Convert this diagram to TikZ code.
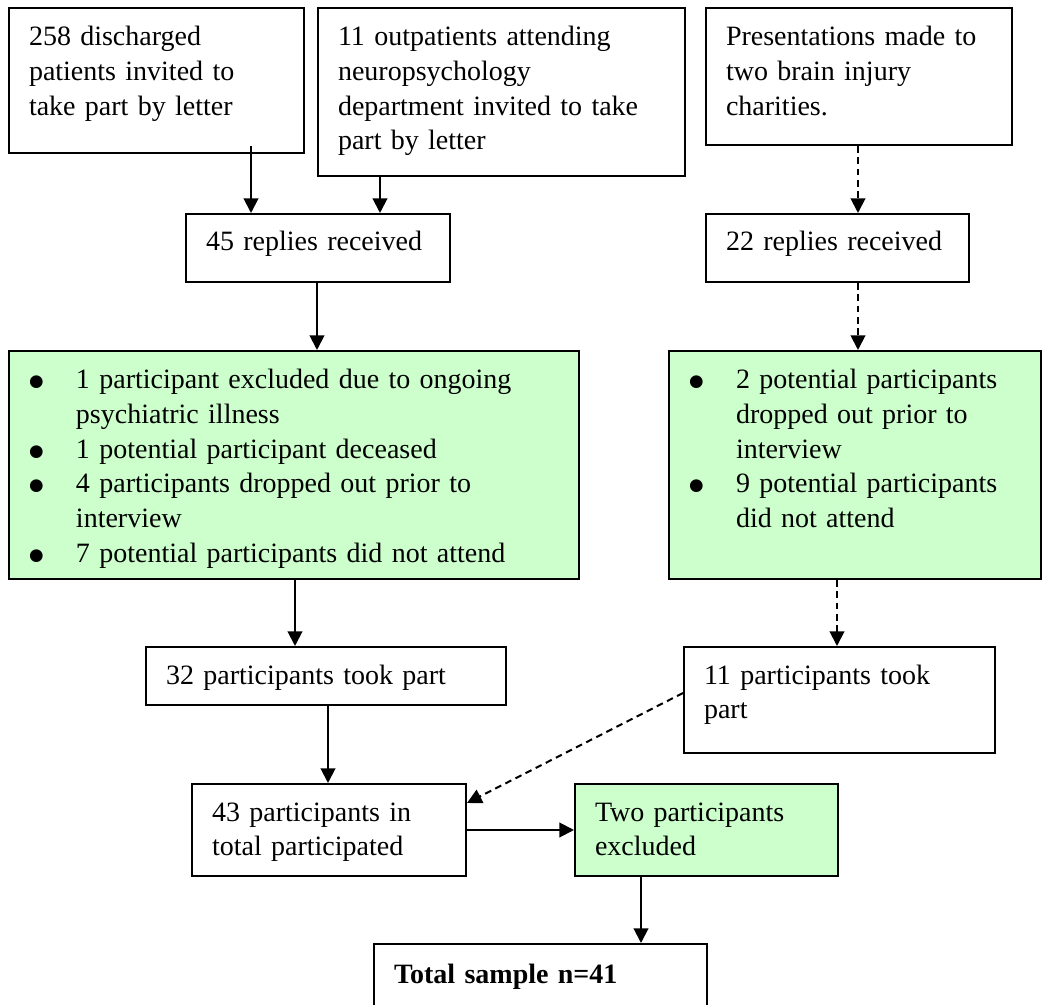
\documentclass[tikz,border=0pt]{standalone}
\usepackage{fontspec}
\setmainfont{Liberation Serif}
\newfontfamily\dotfont{DejaVu Sans}
\usetikzlibrary{arrows.meta}

\definecolor{paleGreen}{HTML}{CCFFCC}
\newcommand\bul{\makebox[35.25pt][l]{\raisebox{1.5pt}{\dotfont\fontsize{12.5}{26}\selectfont ●}}}
\newcommand\cont{\hspace*{35.25pt}}

\begin{document}
\begin{tikzpicture}[x=0.75pt, y=-0.75pt,
  font=\fontsize{21}{26}\selectfont,
  box/.style={draw, line width=1.5pt, anchor=north west, align=left,
    inner xsep=15pt, inner ysep=0pt, text height=28.5pt},
  excl/.style={box, fill=paleGreen},
  arr/.style={line width=1.5pt, -{Triangle[width=11pt,length=11pt]}},
  dasharr/.style={arr, dash pattern=on 5pt off 3.5pt}]
  \useasboundingbox (0,0) rectangle (1047,1005);
  \clip (0,0) rectangle (1047,1005);

  % recruitment
  \node[box, text width=191.25pt, text depth=80.25pt] (letter) at (8,7)
    {258 discharged\\patients invited to\\take part by letter};
  \node[box, text width=245.25pt, text depth=97.5pt] (outpat) at (317,7)
    {11 outpatients attending\\neuropsychology\\department invited to take\\part by letter};
  \node[box, text width=199.5pt, text depth=74.25pt] (charity) at (705,7)
    {Presentations made to\\two brain injury\\charities.};
  \node[box, text width=168pt, text height=27.75pt, text depth=23.25pt] (reply45) at (185,213)
    {45 replies received};
  \node[box, text width=167.25pt, text height=27.75pt, text depth=23.25pt] (reply22) at (705,213)
    {22 replies received};

  % drop outs
  \node[excl, text width=397.5pt, text depth=142.5pt] (dropL) at (8,350)
    {\bul 1 participant excluded due to ongoing\\\cont psychiatric illness\\
     \bul 1 potential participant deceased\\
     \bul 4 participants dropped out prior to\\\cont interview\\
     \bul 7 potential participants did not attend};
  \node[excl, text width=249pt, text depth=142.5pt] (dropR) at (668,350)
    {\bul 2 potential participants\\\cont dropped out prior to\\\cont interview\\
     \bul 9 potential participants\\\cont did not attend};

  % sample
  \node[box, text width=240pt, text height=27.75pt, text depth=15.75pt] (took32) at (145,646)
    {32 participants took part};
  \node[box, text width=203.25pt, text height=27.75pt, text depth=51.75pt] (took11) at (683,646)
    {11 participants took\\part};
  \node[box, text width=175.5pt, text height=27.75pt, text depth=41.25pt] (total43) at (191,783)
    {43 participants in\\total participated};
  \node[excl, text width=167.25pt, text height=27.75pt, text depth=41.25pt] (excl2) at (574,783)
    {Two participants\\excluded};
  \node[box, text width=219.75pt, text height=29.25pt, text depth=24.75pt] (final) at (373,943)
    {\bfseries Total sample n=41};

  % connectors
  \draw[arr] ([xshift=182.25pt,yshift=6pt]letter.south west) -- ([xshift=49.5pt]reply45.north west);
  \draw[arr] ([xshift=47.25pt]outpat.south west) -- ([xshift=146.25pt]reply45.north west);
  \draw[dasharr] ([xshift=114.75pt]charity.south west) -- ([xshift=114.75pt]reply22.north west);
  \draw[arr] ([xshift=99pt]reply45.south west) -- ([xshift=231.75pt]dropL.north west);
  \draw[dasharr] ([xshift=114.75pt]reply22.south west) -- ([xshift=142.5pt]dropR.north west);
  \draw[arr] ([xshift=215.25pt]dropL.south west) -- ([xshift=112.5pt]took32.north west);
  \draw[dasharr] ([xshift=126.75pt]dropR.south west) -- ([xshift=115.5pt]took11.north west);
  \draw[arr] ([xshift=137.25pt]took32.south west) -- ([xshift=102.75pt]total43.north west);
  \draw[dasharr] ([yshift=5.25pt]took11.west) -- ([yshift=-15pt]total43.north east);
  \draw[arr] (total43.east) -- (excl2.west);
  \draw[arr] ([xshift=50.25pt]excl2.south west) -- ([xshift=201pt]final.north west);
\end{tikzpicture}
\end{document}
